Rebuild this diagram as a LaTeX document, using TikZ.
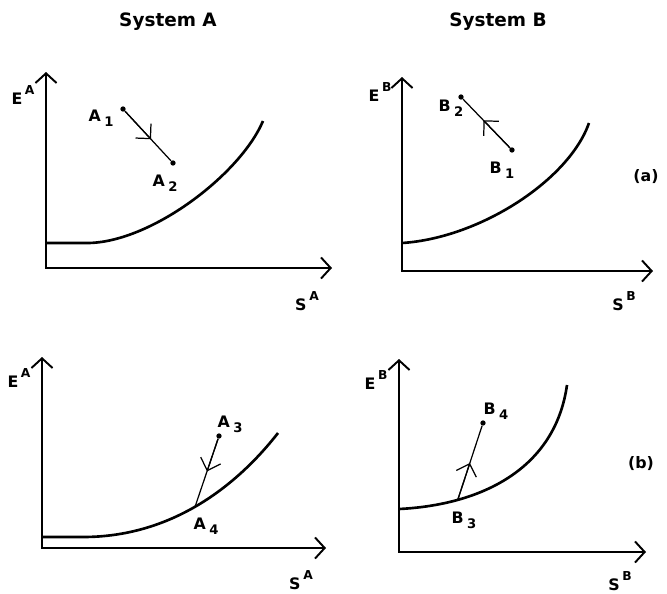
\documentclass[tikz,border=0pt]{standalone}
\usepackage{fontspec}
\setmainfont{DejaVu Sans}
\usetikzlibrary{arrows.meta,calc}
\newcommand{\hi}[1]{\kern1.5pt\raisebox{5.5pt}{\fontsize{7}{7}\selectfont#1}}
\newcommand{\lo}[1]{\kern2pt\raisebox{-3pt}{\fontsize{7.5}{8}\selectfont#1}}
\tikzset{
    >={Straight Barb[length=5.5pt,width=12pt]},
    axis/.style={<->, line width=1.1pt},
    curve/.style={line width=1.5pt},
    move/.style={line width=0.7pt},
    half/.style={move, -{Straight Barb[length=6pt,width=12pt]}},
    dot/.style={circle, fill, inner sep=0pt, minimum size=3pt},
    lab/.style={font=\fontsize{9}{10}\selectfont\bfseries, inner sep=1pt},
    title/.style={font=\fontsize{10.5}{12}\selectfont\bfseries},
}
\begin{document}
\begin{tikzpicture}[x=0.02cm, y=-0.02cm]
    \useasboundingbox (0,0) rectangle (667,593);

    \node[title] (sysA) at (168,22) {System A};
    \node[title] (sysB) at (498,22) {System B};

    % (a), system A
    \coordinate (oA1) at (46,268);
    \coordinate (yA1) at (46,72);
    \coordinate (xA1) at (332,268);
    \draw[axis] (yA1) -- (oA1) -- (xA1);
    \node[lab] (eA1) at (23,95) {E\hi{A}};
    \node[lab] (sA1) at (307,301) {S\hi{A}};
    \draw[curve] (46,243) -- (87,243) .. controls (150,243) and (240,175) .. (263,121);
    \node[dot] (a1) at (123,109) {};
    \node[dot] (a2) at (173,163) {};
    \draw[move] (a1) -- (a2);
    \draw[half] (a1) -- ($(a1)!0.56!(a2)$);
    \node[lab] (la1) at (101,118) {A\lo{1}};
    \node[lab] (la2) at (165,183) {A\lo{2}};

    % (a), system B
    \coordinate (oB1) at (402,271);
    \coordinate (yB1) at (402,77);
    \coordinate (xB1) at (653,271);
    \draw[axis] (yB1) -- (oB1) -- (xB1);
    \node[lab] (eB1) at (380,92) {E\hi{B}};
    \node[lab] (sB1) at (624,301) {S\hi{B}};
    \draw[curve] (402,243) .. controls (480,238) and (569,180) .. (589,123);
    \node[dot] (b2) at (461,97) {};
    \node[dot] (b1) at (512,150) {};
    \draw[move] (b1) -- (b2);
    \draw[half] (b1) -- ($(b1)!0.56!(b2)$);
    \node[lab] (lb2) at (451,108) {B\lo{2}};
    \node[lab] (lb1) at (502,170) {B\lo{1}};
    \node[lab] (parta) at (646,177) {(a)};

    % (b), system A
    \coordinate (oA2) at (42,548);
    \coordinate (yA2) at (42,357);
    \coordinate (xA2) at (326,548);
    \draw[axis] (yA2) -- (oA2) -- (xA2);
    \node[lab] (eA2) at (19,378) {E\hi{A}};
    \node[lab] (sA2) at (301,580) {S\hi{A}};
    \draw[curve] (42,537) -- (83,537) .. controls (170,537) and (235,488) .. (278,433)
        coordinate[pos=0.49] (a4);
    \node[dot] (a3) at (219,436) {};
    \draw[move] (a3) -- (a4);
    \draw[half] (a3) -- ($(a3)!0.5!(a4)$);
    \node[lab] (la3) at (230,424) {A\lo{3}};
    \node[lab] (la4) at (206,526) {A\lo{4}};

    % (b), system B
    \coordinate (oB2) at (399,552);
    \coordinate (yB2) at (399,359);
    \coordinate (xB2) at (646,552);
    \draw[axis] (yB2) -- (oB2) -- (xB2);
    \node[lab] (eB2) at (376,380) {E\hi{B}};
    \node[lab] (sB2) at (620,581) {S\hi{B}};
    \draw[curve] (399,509) .. controls (480,505) and (555,470) .. (567,385)
        coordinate[pos=0.25] (b3);
    \node[dot] (b4) at (483,423) {};
    \draw[move] (b3) -- (b4);
    \draw[half] (b3) -- ($(b3)!0.48!(b4)$);
    \node[lab] (lb4) at (496,411) {B\lo{4}};
    \node[lab] (lb3) at (464,520) {B\lo{3}};
    \node[lab] (partb) at (641,464) {(b)};

\end{tikzpicture}
\end{document}
